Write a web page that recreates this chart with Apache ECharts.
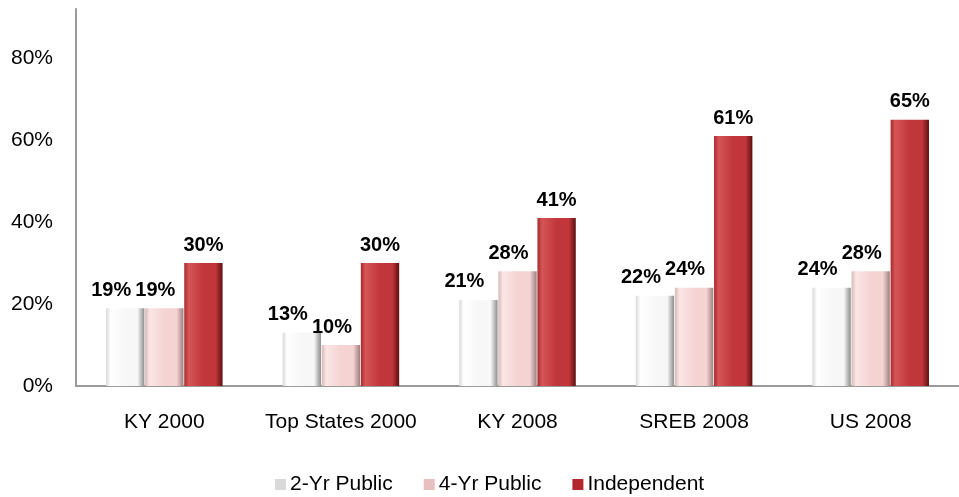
<!DOCTYPE html>
<html>
<head>
<meta charset="utf-8">
<script src="https://cdn.jsdelivr.net/npm/echarts@6/dist/echarts.min.js"></script>
<style>
  html, body { margin: 0; padding: 0; background: #fff; }
  #chart { width: 959px; height: 497px; }
</style>
</head>
<body>
<div id="chart"></div>
<script>
const categories = ['KY 2000', 'Top States 2000', 'KY 2008', 'SREB 2008', 'US 2008']
const seriesNames = ['2-Yr Public', '4-Yr Public', 'Independent']
const twoYrPublic = [19, 13, 21, 22, 24]
const fourYrPublic = [19, 10, 28, 24, 28]
const independent = [30, 30, 41, 61, 65]

// bevel look: horizontal gradient per series
const bevel = (left, light, main, dark) => new echarts.graphic.LinearGradient(0, 0, 1, 0, [
  { offset: 0, color: left },
  { offset: 0.12, color: light },
  { offset: 0.5, color: main },
  { offset: 0.82, color: main },
  { offset: 1, color: dark }
])

// shift: how far the value label sits left of the bar centre
const styles = [
  { fill: bevel('#d8d8d8', '#ffffff', '#f7f7f7', '#8c8c8c'), legend: '#d9d9d9', shift: 14 },
  { fill: bevel('#d9b8b8', '#fbe6e6', '#f5d3d3', '#9c7f7f'), legend: '#e8c0c0', shift: 9 },
  { fill: bevel('#a82a2d', '#d65557', '#c0363a', '#5e1010'), legend: '#b3282c', shift: 0 }
]

const font = 'Liberation Sans'

const chart = echarts.init(document.getElementById('chart'))

chart.setOption({
  backgroundColor: '#fff',
  animation: false,
  grid: { left: 76, right: -17, top: 9, bottom: 111, containLabel: false },
  legend: {
    data: seriesNames.map((name, i) => ({ name, itemStyle: { color: styles[i].legend } })),
    bottom: -3,
    left: 270,
    icon: 'rect',
    itemWidth: 11,
    itemHeight: 11,
    itemGap: 31,
    textStyle: { fontSize: 21, color: '#000', fontFamily: font, padding: [0, 0, 0, -1] }
  },
  xAxis: {
    type: 'category',
    data: categories,
    axisLine: { lineStyle: { color: '#9a9a9a', width: 2 } },
    axisTick: { show: false },
    axisLabel: { interval: 0, fontSize: 21, color: '#000', fontFamily: font, margin: 26 }
  },
  yAxis: {
    type: 'value',
    min: 0,
    max: 92,
    interval: 20,
    axisLine: { show: true, lineStyle: { color: '#9a9a9a', width: 2 } },
    axisTick: { show: false },
    splitLine: { show: false },
    axisLabel: {
      fontSize: 21, color: '#000', fontFamily: font, margin: 23,
      showMaxLabel: false,
      formatter: v => v > 80 ? '' : v + '%'
    }
  },
  series: [twoYrPublic, fourYrPublic, independent].map((data, i) => ({
    name: seriesNames[i],
    type: 'bar',
    data,
    barGap: '2%',
    barCategoryGap: '34%',
    itemStyle: { color: styles[i].fill },
    labelLayout: { hideOverlap: false },
    label: {
      show: true,
      position: 'top',
      distance: 8,
      padding: [0, styles[i].shift * 2, 0, 0],
      formatter: '{c}%',
      fontSize: 20,
      fontWeight: 'bold',
      color: '#000',
      fontFamily: font
    }
  }))
})
</script>
</body>
</html>
